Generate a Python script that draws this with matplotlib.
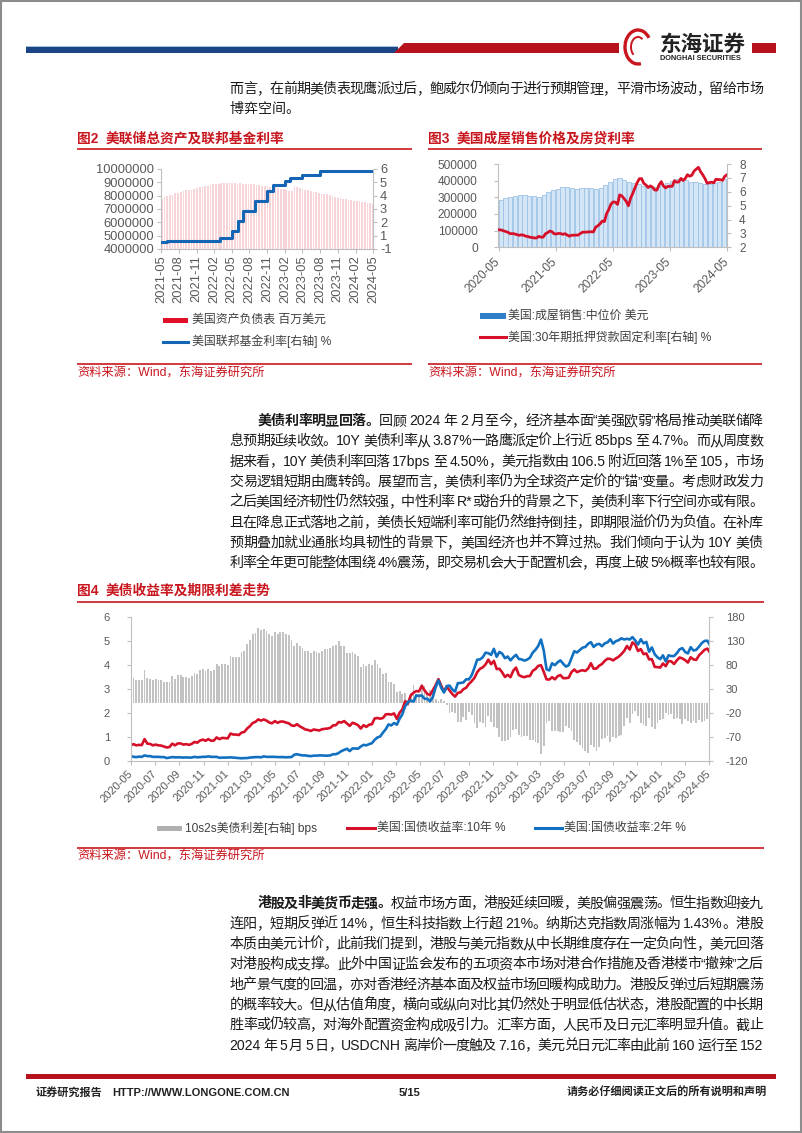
import numpy as np
import pandas as pd
import matplotlib
matplotlib.use("Agg")
import matplotlib.pyplot as plt
from matplotlib.patches import Rectangle, Polygon, Arc
from matplotlib.font_manager import FontProperties

plt.rcParams['font.family'] = ['Liberation Sans', 'Noto Sans CJK SC']
plt.rcParams['axes.unicode_minus'] = False

# ---- 图2 数据：美联储总资产（双周，百万美元）及联邦基金利率（月度，%）
fed_assets = [7780000, 7890000, 7940000, 8060000, 8070000, 8210000, 8230000, 8290000,
              8340000, 8390000, 8450000, 8460000, 8530000, 8580000, 8660000, 8680000,
              8760000, 8760000, 8790000, 8870000, 8880000, 8910000, 8940000, 8940000,
              8940000, 8960000, 8940000, 8920000, 8910000, 8930000, 8910000, 8880000,
              8890000, 8870000, 8850000, 8820000, 8800000, 8760000, 8740000, 8700000,
              8680000, 8610000, 8620000, 8550000, 8500000, 8470000, 8430000, 8380000,
              8340000, 8730000, 8630000, 8590000, 8500000, 8440000, 8390000, 8340000,
              8300000, 8260000, 8210000, 8160000, 8100000, 8090000, 8030000, 7960000,
              7930000, 7860000, 7830000, 7780000, 7740000, 7710000, 7670000, 7630000,
              7580000, 7570000, 7540000, 7510000, 7480000, 7440000, 7360000]
fed_funds = [0.06, 0.08, 0.10, 0.09, 0.08, 0.08, 0.08, 0.08, 0.08, 0.08,
             0.33, 0.33, 0.83, 1.58, 2.33, 2.33, 3.08, 3.08, 3.83, 4.33,
             4.33, 4.58, 4.83, 4.83, 5.08, 5.08, 5.08, 5.33, 5.33, 5.33, 5.33, 5.33,
             5.33, 5.33, 5.33, 5.33, 5.33]

# ---- 图3 数据：成屋销售中位价（月度，美元）及30年期抵押贷款利率（双周，%）
home_price = [284600, 295300, 304100, 310600, 311800, 313000, 310800, 309800,
              303900, 313000, 329100, 341600, 350300, 363300, 359900, 356700,
              352800, 353900, 353900, 358000, 350300, 357300, 375300, 391200,
              407600, 413800, 403800, 389500, 384800, 379100, 370700, 366900,
              359000, 363000, 375700, 388800, 396100, 410200, 405300, 406700,
              394300, 391800, 387700, 382600, 379100, 384500, 393500, 407600]
mortgage = [3.26, 3.24, 3.18, 3.13, 3.07, 2.98, 2.99, 2.96, 2.91, 2.86, 2.90, 2.87,
            2.80, 2.78, 2.72, 2.71, 2.67, 2.67,
            2.79, 2.73, 2.73, 2.97, 3.05, 3.17, 3.13, 2.97, 2.96, 3.00, 2.99, 2.93,
            2.98, 2.88, 2.80, 2.87, 2.87, 2.88, 2.88, 2.99, 3.09, 3.09, 3.10, 3.11,
            3.12, 3.11,
            3.45, 3.55, 3.69, 3.89, 3.85, 4.42, 4.72, 5.11, 5.27, 5.25, 5.09, 5.78,
            5.70, 5.51, 5.30, 4.99, 5.55, 5.89, 6.29, 6.66, 6.94, 6.95, 6.61, 6.49,
            6.31, 6.42,
            6.33, 6.13, 6.12, 6.50, 6.73, 6.42, 6.28, 6.39, 6.39, 6.39, 6.79, 6.69,
            6.71, 6.96, 6.81, 6.96, 7.23, 7.12, 7.19, 7.49, 7.63, 7.76, 7.44, 7.22,
            6.95, 6.61,
            6.66, 6.69, 6.64, 6.90, 6.88, 6.87, 6.82, 7.10, 7.22]

# ---- 图4 数据：美国国债收益率（周度，%）
y10 = [0.64, 0.69, 0.64, 0.66, 0.65, 0.90, 0.71, 0.70, 0.64, 0.67, 0.64, 0.63, 0.59, 0.55,
       0.57, 0.71, 0.64, 0.72, 0.72, 0.67, 0.69, 0.66, 0.70, 0.78, 0.75, 0.84, 0.88,
       0.83, 0.90, 0.83, 0.84, 0.97, 0.90, 0.95, 0.94,
       0.93, 1.13, 1.09, 1.09, 1.07, 1.17, 1.20, 1.34, 1.44, 1.57, 1.62, 1.72, 1.67,
       1.72, 1.67, 1.59, 1.56, 1.65, 1.58, 1.63, 1.63, 1.59, 1.56, 1.47, 1.45, 1.52,
       1.43, 1.37, 1.30, 1.28, 1.24, 1.30, 1.28, 1.26, 1.31, 1.33, 1.34, 1.37, 1.47,
       1.48, 1.61, 1.59, 1.65, 1.55, 1.45, 1.58, 1.54, 1.48, 1.34, 1.48, 1.41, 1.50, 1.52,
       1.76, 1.78, 1.75, 1.78, 1.93, 1.94, 1.92, 1.97, 1.74, 2.00, 2.14, 2.48,
       2.38, 2.72, 2.83, 2.90, 2.89, 3.12, 2.93, 2.78, 2.74, 2.94, 3.15, 3.40, 3.13,
       2.88, 3.08, 2.93, 2.78, 2.67, 2.83, 2.85, 2.98, 3.04, 3.20, 3.31, 3.45, 3.69, 3.83,
       3.89, 4.01, 4.21, 4.02, 4.16, 3.82, 3.83, 3.68, 3.49, 3.58, 3.48, 3.75, 3.88,
       3.57, 3.51, 3.48, 3.52, 3.53, 3.74, 3.82, 3.95, 3.98, 3.70, 3.39, 3.38, 3.48,
       3.39, 3.52, 3.57, 3.44, 3.44, 3.46, 3.69, 3.80, 3.69, 3.74, 3.77, 3.74, 3.84,
       4.06, 3.83, 3.84, 3.96, 4.03, 4.16, 4.25, 4.24, 4.18, 4.26, 4.33, 4.44, 4.57,
       4.78, 4.63, 4.93, 4.84, 4.57, 4.65, 4.44, 4.47, 4.22, 4.23, 3.91, 3.90, 3.88,
       4.05, 3.94, 4.15, 4.14, 4.03, 4.18, 4.30, 4.26, 4.19, 4.09, 4.31, 4.22, 4.20,
       4.39, 4.50, 4.62, 4.67, 4.50]
y2 = [0.20, 0.16, 0.15, 0.17, 0.16, 0.22, 0.19, 0.19, 0.16, 0.16, 0.16, 0.15, 0.15, 0.11,
      0.13, 0.15, 0.14, 0.14, 0.14, 0.13, 0.14, 0.13, 0.13, 0.16, 0.14, 0.15, 0.16,
      0.16, 0.18, 0.16, 0.16, 0.16, 0.12, 0.13, 0.13,
      0.13, 0.14, 0.13, 0.12, 0.11, 0.10, 0.11, 0.11, 0.13, 0.14, 0.15, 0.15, 0.14,
      0.18, 0.16, 0.16, 0.16, 0.16, 0.15, 0.15, 0.15, 0.14, 0.15, 0.15, 0.25, 0.27,
      0.24, 0.22, 0.22, 0.20, 0.19, 0.21, 0.21, 0.22, 0.22, 0.21, 0.21, 0.22, 0.27,
      0.27, 0.32, 0.40, 0.45, 0.50, 0.40, 0.51, 0.51, 0.50, 0.59, 0.66, 0.64, 0.69, 0.73,
      0.87, 0.97, 1.01, 1.17, 1.31, 1.51, 1.47, 1.57, 1.50, 1.75, 1.94, 2.27,
      2.44, 2.51, 2.46, 2.72, 2.70, 2.72, 2.58, 2.58, 2.47, 2.66, 3.06, 3.35, 3.04,
      2.84, 3.11, 3.13, 2.97, 2.88, 3.23, 3.24, 3.26, 3.39, 3.39, 3.56, 3.87, 4.21, 4.22,
      4.31, 4.50, 4.48, 4.41, 4.66, 4.33, 4.53, 4.46, 4.27, 4.34, 4.18, 4.31, 4.41,
      4.24, 4.22, 4.17, 4.21, 4.29, 4.50, 4.62, 4.78, 5.05, 4.59, 3.81, 3.76, 4.06,
      3.98, 4.10, 4.18, 4.04, 3.92, 3.98, 4.27, 4.56, 4.51, 4.61, 4.71, 4.74, 4.87,
      4.94, 4.74, 4.84, 4.87, 4.77, 4.89, 4.93, 5.06, 4.88, 4.98, 5.02, 5.10, 5.05,
      5.08, 5.05, 5.15, 5.01, 4.84, 5.06, 4.89, 4.95, 4.54, 4.72, 4.44, 4.31, 4.23,
      4.39, 4.14, 4.39, 4.36, 4.36, 4.48, 4.64, 4.69, 4.53, 4.47, 4.73, 4.59, 4.62,
      4.75, 4.90, 4.99, 5.00, 4.81]

# ---- 正文
para1 = [([("而言，在前期美债表现鹰派过后，鲍威尔仍倾向于进行预期管理，平滑市场波动，留给市场", False)], True),
         ([("博弈空间。", False)], False)]
para2 = [([("美债利率明显回落。", True), ("回顾 2024 年 2 月至今，经济基本面“美强欧弱”格局推动美联储降", False)], True),
         ([("息预期延续收敛。10Y 美债利率从 3.87%一路鹰派定价上行近 85bps 至 4.7%。而从周度数", False)], True),
         ([("据来看，10Y 美债利率回落 17bps 至 4.50%，美元指数由 106.5 附近回落 1%至 105，市场", False)], True),
         ([("交易逻辑短期由鹰转鸽。展望而言，美债利率仍为全球资产定价的“锚”变量。考虑财政发力", False)], True),
         ([("之后美国经济韧性仍然较强，中性利率 R*或抬升的背景之下，美债利率下行空间亦或有限。", False)], True),
         ([("且在降息正式落地之前，美债长短端利率可能仍然维持倒挂，即期限溢价仍为负值。在补库", False)], True),
         ([("预期叠加就业通胀均具韧性的背景下，美国经济也并不算过热。我们倾向于认为 10Y 美债", False)], True),
         ([("利率全年更可能整体围绕 4%震荡，即交易机会大于配置机会，再度上破 5%概率也较有限。", False)], True)]
para3 = [([("港股及非美货币走强。", True), ("权益市场方面，港股延续回暖，美股偏强震荡。恒生指数迎接九", False)], True),
         ([("连阳，短期反弹近 14%，恒生科技指数上行超 21%。纳斯达克指数周涨幅为 1.43%。港股", False)], True),
         ([("本质由美元计价，此前我们提到，港股与美元指数从中长期维度存在一定负向性，美元回落", False)], True),
         ([("对港股构成支撑。此外中国证监会发布的五项资本市场对港合作措施及香港楼市“撤辣”之后", False)], True),
         ([("地产景气度的回温，亦对香港经济基本面及权益市场回暖构成助力。港股反弹过后短期震荡", False)], True),
         ([("的概率较大。但从估值角度，横向或纵向对比其仍然处于明显低估状态，港股配置的中长期", False)], True),
         ([("胜率或仍较高，对海外配置资金构成吸引力。汇率方面，人民币及日元汇率明显升值。截止", False)], True),
         ([("2024 年 5 月 5 日，USDCNH 离岸价一度触及 7.16，美元兑日元汇率由此前 160 运行至 152", False)], True)]

W, H = 802, 1133
RED = '#c8161e'
TICK = '#595959'
SPINE = '#bfbfbf'
LEG = '#404040'

fig = plt.figure(figsize=(W / 100, H / 100), dpi=100)
page = fig.add_axes([0, 0, 1, 1])
page.set_xlim(0, W)
page.set_ylim(H, 0)
page.axis('off')


def box(x0, y0, x1, y1):
    return fig.add_axes([x0 / W, 1 - y1 / H, (x1 - x0) / W, (y1 - y0) / H])


def style(ax, ax2, size):
    for a in (ax, ax2):
        a.patch.set_visible(False)
        a.spines['top'].set_visible(False)
        for s in ('left', 'right', 'bottom'):
            a.spines[s].set_color(SPINE)
        a.tick_params(colors=SPINE, labelcolor=TICK, labelsize=size, length=3)
    ax.spines['right'].set_visible(False)
    ax2.spines['left'].set_visible(False)
    ax2.spines['bottom'].set_visible(False)


def hline(x0, x1, y, lw=1.2, color=RED):
    page.plot([x0, x1], [y, y], color=color, lw=lw, solid_capstyle='butt')


# ---- 页眉
page.add_patch(Rectangle((26, 45.5), 372, 1.5, color='#a9c1e0', lw=0))
page.add_patch(Rectangle((26, 47), 372, 6, color='#1c4587', lw=0))
page.add_patch(Polygon([(394, 53), (404, 43), (619, 43), (619, 53)], color='#b5121b', lw=0))
page.add_patch(Rectangle((752, 43), 24, 10, color='#b5121b', lw=0))
page.add_patch(Arc((638, 47), 26, 34, theta1=80, theta2=320, color='#c8161e', lw=2.4))
page.add_patch(Arc((638, 47), 14, 20, theta1=120, theta2=300, color='#c8161e', lw=1.4))
page.text(660, 44, '东海证券', fontsize=15.5, fontweight='bold', color='#222222',
          va='center', ha='left', family=['Noto Sans CJK SC'])
page.text(660, 58, 'DONGHAI SECURITIES', fontsize=5.3, fontweight='bold', color='#222222',
          va='center', ha='left')

# ---- 正文排版
body_fp = FontProperties(family=['Liberation Sans', 'Noto Sans CJK SC'], size=10.1)
bold_fp = FontProperties(family=['Liberation Sans', 'Noto Sans CJK SC'], size=10.1, weight='bold')
renderer = fig.canvas.get_renderer()
em = 10.1 * 100 / 72


def split_tokens(s):
    out, buf = [], ''
    for ch in s:
        if ord(ch) < 128 and ch != ' ':
            buf += ch
        else:
            if buf:
                out.append(buf)
                buf = ''
            out.append(ch)
    if buf:
        out.append(buf)
    return out


def body_line(y, parts, x0, x1=763, justify=True):
    toks = []
    for s, b in parts:
        toks += [(t, b) for t in split_tokens(s)]
    widths = []
    for t, b in toks:
        if t == ' ':
            widths.append(em * 0.28)
        elif ord(t[0]) >= 0x2E80:
            widths.append(em)
        else:
            widths.append(renderer.get_text_width_height_descent(
                t, bold_fp if b else body_fp, ismath=False)[0])
    gap = (x1 - x0 - sum(widths)) / (len(toks) - 1) if justify else 0
    x = x0
    for (t, b), w in zip(toks, widths):
        if t != ' ':
            page.text(x, y + 5, t, fontproperties=bold_fp if b else body_fp,
                      color='#1a1a1a', va='baseline', ha='left')
        x += w + gap


def paragraph(lines, y0, indent):
    for i, (parts, just) in enumerate(lines):
        x0 = 229.5 + (2 * em if (i == 0 and indent) else 0)
        body_line(y0 + i * 20.3, parts, x0, justify=just)


paragraph(para1, 88, False)
paragraph(para2, 420, True)
paragraph(para3, 902.5, True)


def fig_title(x, num, text, y):
    page.text(x, y, num, fontsize=9.9, fontweight='bold', color=RED, va='center', ha='left')
    page.text(x + 29, y, text, fontsize=9.9, fontweight='bold', color=RED, va='center', ha='left')


def source(x, y):
    page.text(x, y, '资料来源：Wind，东海证券研究所', fontsize=8.8, color=RED, va='center', ha='left')


# ---- 图2
fig_title(77, '图2', '美联储总资产及联邦基金利率', 138.5)
hline(77, 412, 149)
hline(77, 412, 364.3)
source(77, 373.3)

asset_dates = pd.date_range('2021-05-05', periods=len(fed_assets), freq='14D')
ffr_dates = pd.date_range('2021-05-01', periods=len(fed_funds), freq='MS')

ax = box(161, 169, 373, 249)
ax.bar(asset_dates, fed_assets, width=9, color='#f7d4d7', linewidth=0)
ax.set_ylim(4e6, 1e7)
lt = np.arange(4e6, 1e7 + 1, 1e6)
ax.set_yticks(lt)
ax.set_yticklabels([f'{int(v)}' for v in lt])
ax.set_xlim(pd.Timestamp('2021-05-01'), pd.Timestamp('2024-05-01'))
xt = pd.date_range('2021-05-01', '2024-05-01', freq='3MS')
ax.set_xticks(xt)
ax.set_xticklabels([d.strftime('%Y-%m') for d in xt], rotation=90)
ax2 = ax.twinx()
ax2.step(ffr_dates, fed_funds, where='post', color='#1565b5', lw=2.2)
ax2.set_ylim(-0.5, 5.5)
rt = np.arange(-0.5, 5.6, 1.0)
ax2.set_yticks(rt)
ax2.set_yticklabels([str(int(np.sign(v) * np.floor(abs(v) + 0.5))) for v in rt])
ax2.set_xlim(pd.Timestamp('2021-05-01'), pd.Timestamp('2024-05-01'))
style(ax, ax2, 9.3)
ax.tick_params(axis='y', pad=2)
ax.tick_params(axis='x', pad=1.5)
ax2.tick_params(axis='y', pad=2)

page.add_patch(Rectangle((163, 317.5), 25, 5, color='#e0102a', lw=0))
page.text(192, 320, '美国资产负债表 百万美元', fontsize=8.6, color=LEG, va='center', ha='left')
page.plot([163, 188], [341.7, 341.7], color='#1565b5', lw=2.2)
page.text(192, 341.7, '美国联邦基金利率[右轴] %', fontsize=8.6, color=LEG, va='center', ha='left')

# ---- 图3
fig_title(428, '图3', '美国成屋销售价格及房贷利率', 138.5)
hline(428, 762, 148.5)
hline(428, 762, 364.3)
source(428, 373.3)

price_dates = pd.date_range('2020-05-01', periods=len(home_price), freq='MS')
rate_dates = pd.date_range('2020-05-07', periods=len(mortgage), freq='14D')

ax = box(498.5, 164, 726.7, 247.3)
ax.bar(price_dates, home_price, width=27, align='edge', color='#d4e6f6',
       edgecolor='#9cc2e6', linewidth=0.6)
ax.set_ylim(0, 500000)
ax.set_yticks(np.arange(0, 500001, 100000))
ax.set_xlim(pd.Timestamp('2020-05-01'), pd.Timestamp('2024-05-01'))
xt = pd.date_range('2020-05-01', '2024-05-01', freq='12MS')
ax.set_xticks(xt)
ax.set_xticklabels([d.strftime('%Y-%m') for d in xt], rotation=45, ha='right',
                   va='center', rotation_mode='anchor')
ax2 = ax.twinx()
ax2.plot(rate_dates, mortgage, color='#d7102a', lw=2.0)
ax2.set_ylim(2, 8)
ax2.set_yticks(np.arange(2, 8.1, 1))
ax2.set_xlim(pd.Timestamp('2020-05-01'), pd.Timestamp('2024-05-01'))
style(ax, ax2, 8.6)
ax.tick_params(axis='y', pad=12)
ax.tick_params(axis='x', pad=6)
ax2.tick_params(axis='y', pad=6)

page.add_patch(Rectangle((480, 313), 26, 5.5, color='#2e7fc6', lw=0))
page.text(508, 315.7, '美国:成屋销售:中位价 美元', fontsize=8.6, color=LEG, va='center', ha='left')
page.plot([480, 506], [337, 337], color='#d7102a', lw=2.2)
page.text(508, 337, '美国:30年期抵押贷款固定利率[右轴] %', fontsize=8.6, color=LEG,
          va='center', ha='left')

# ---- 图4
fig_title(77, '图4', '美债收益率及期限利差走势', 591)
hline(77, 764, 601.7)
hline(77, 764, 847.7)
source(77, 856.7)

week_dates = pd.date_range('2020-05-01', periods=len(y10), freq='7D')
spread = (np.array(y10) - np.array(y2)) * 100

ax = box(130.7, 616.7, 709.3, 760.7)
ax2 = ax.twinx()
ax2.bar(week_dates, spread, width=4.6, color='#c2c2c2', linewidth=0)
ax2.set_ylim(-120, 180)
ax2.set_yticks(np.arange(-120, 181, 50))
ax.plot(week_dates, y10, color='#d7102a', lw=1.9)
ax.plot(week_dates, y2, color='#1170c0', lw=1.9)
ax.set_ylim(0, 6)
ax.set_yticks(np.arange(0, 7, 1))
for a in (ax, ax2):
    a.set_xlim(pd.Timestamp('2020-05-01'), pd.Timestamp('2024-05-01'))
ax.set_zorder(ax2.get_zorder() + 1)
xt = pd.date_range('2020-05-01', '2024-05-01', freq='2MS')
ax.set_xticks(xt)
ax.set_xticklabels([d.strftime('%Y-%m') for d in xt], rotation=45, ha='right',
                   va='center', rotation_mode='anchor')
style(ax, ax2, 8.0)
ax.tick_params(axis='y', pad=12)
ax.tick_params(axis='x', pad=5)
ax2.tick_params(axis='y', pad=9)

page.add_patch(Rectangle((157, 825.5), 25, 5.5, color='#b0b0b0', lw=0))
page.text(185, 828.3, '10s2s美债利差[右轴] bps', fontsize=8.6, color=LEG, va='center', ha='left')
page.plot([347, 375], [828.3, 828.3], color='#d7102a', lw=2.2)
page.text(377, 828.3, '美国:国债收益率:10年 %', fontsize=8.6, color=LEG, va='center', ha='left')
page.plot([535, 562], [828.3, 828.3], color='#1170c0', lw=2.2)
page.text(564, 828.3, '美国:国债收益率:2年 %', fontsize=8.6, color=LEG, va='center', ha='left')

# ---- 页脚
page.add_patch(Rectangle((26, 1074), 750, 4.5, color='#b5121b', lw=0))
foot = dict(fontsize=8, fontweight='bold', color='#222222', va='center')
page.text(36, 1092.5, '证券研究报告', ha='left', **foot)
page.text(112.5, 1092.5, 'HTTP://WWW.LONGONE.COM.CN', ha='left', **foot)
page.text(409.5, 1092.5, '5/15', ha='center', **foot)
page.text(767, 1092.5, '请务必仔细阅读正文后的所有说明和声明', ha='right', **foot)

# ---- 页面边框
page.add_patch(Rectangle((0.8, 0.8), W - 1.6, H - 1.6, fill=False, edgecolor='#8c8c8c', lw=1.5))

fig.savefig('out.png', dpi=100)
